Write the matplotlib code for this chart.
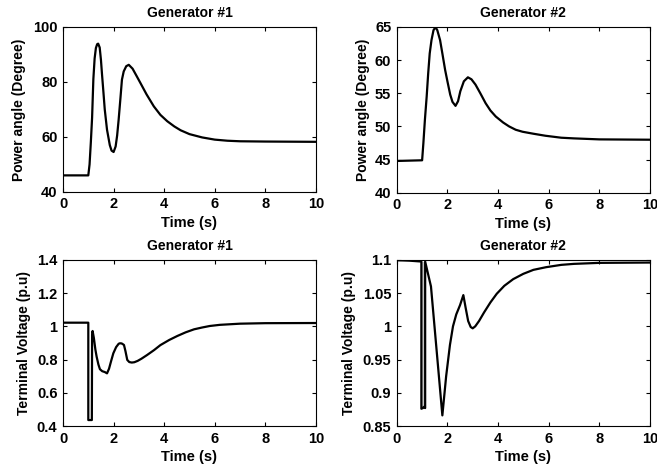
import matplotlib
matplotlib.use("Agg")
import matplotlib.pyplot as plt
from matplotlib.ticker import FormatStrFormatter

# generator 1 power angle (degree)
t_ang1 = [0, 1.0, 1.05, 1.1, 1.15, 1.2, 1.25, 1.3, 1.35, 1.39, 1.45, 1.5, 1.54, 1.6, 1.65, 1.74,
          1.85, 1.92, 2.0, 2.08, 2.14, 2.2, 2.27, 2.33, 2.4, 2.5, 2.6, 2.75, 2.9, 3.06, 3.3, 3.59, 3.85,
          4.12, 4.4, 4.65, 5.0, 5.5, 6.0, 6.5, 7.0, 8.0, 10.0]
ang1 = [46, 46, 50, 58, 67, 81, 88.5, 92.3, 93.7, 93.9, 92.5, 88, 83, 76, 70, 62.6,
        57, 55, 54.5, 56.5, 60.5, 66.3, 74, 80.8, 83.8, 85.7, 86.2, 84.8, 82.3, 79.6, 75.5, 71.1, 68,
        65.7, 63.8, 62.4, 61, 59.8, 59.0, 58.6, 58.4, 58.3, 58.2]

# generator 2 power angle (degree)
t_ang2 = [0, 1.0, 1.05, 1.11, 1.18, 1.24, 1.3, 1.37, 1.45, 1.53, 1.6, 1.71, 1.8, 1.91,
          2.0, 2.11, 2.2, 2.32, 2.42, 2.51, 2.65, 2.81, 2.95, 3.11, 3.3, 3.51, 3.7, 3.91,
          4.2, 4.44, 4.7, 4.97, 5.4, 5.87, 6.5, 7.0, 8.0, 10.0]
ang2 = [44.8, 44.9, 47.5, 51, 54.5, 58, 61, 63, 64.5, 64.95, 64.5, 63, 61, 58.5,
        56.8, 54.8, 53.7, 53.1, 53.8, 55.3, 56.8, 57.4, 57.1, 56.3, 55, 53.5, 52.4, 51.5,
        50.6, 50.0, 49.5, 49.2, 48.9, 48.6, 48.3, 48.2, 48.05, 48.0]

# generator 1 terminal voltage (p.u)
t_v1 = [0, 1.0, 1.0, 1.14, 1.15, 1.17, 1.22, 1.28, 1.33, 1.4, 1.46, 1.55, 1.65, 1.74,
        1.82, 1.9, 1.99, 2.1, 2.2, 2.25, 2.32, 2.41, 2.47, 2.54, 2.62, 2.72, 2.82, 2.95,
        3.1, 3.32, 3.6, 3.85, 4.2, 4.52, 4.85, 5.18, 5.5, 5.8, 6.2, 7.0, 8.0, 10.0]
v1 = [1.022, 1.022, 0.436, 0.436, 0.95, 0.972, 0.93, 0.86, 0.817, 0.77, 0.742, 0.73, 0.725, 0.717,
      0.745, 0.79, 0.838, 0.875, 0.895, 0.898, 0.897, 0.888, 0.85, 0.798, 0.785, 0.782, 0.784, 0.792,
      0.805, 0.827, 0.857, 0.887, 0.918, 0.942, 0.964, 0.982, 0.993, 1.002, 1.009, 1.016, 1.019, 1.02]

# generator 2 terminal voltage (p.u)
t_v2 = [0, 0.5, 0.97, 0.97, 1.03, 1.08, 1.12, 1.12, 1.35, 1.8, 1.95, 2.1, 2.22, 2.35, 2.5,
        2.63, 2.72, 2.82, 2.92, 3.0, 3.1, 3.25, 3.45, 3.7, 3.95, 4.25, 4.6, 5.0, 5.4, 5.9,
        6.5, 7.0, 8.0, 10.0]
v2 = [1.0995, 1.0988, 1.0975, 0.876, 0.877, 0.879, 0.877, 1.0975, 1.06, 0.866, 0.925, 0.972, 1.0, 1.018, 1.032,
      1.047, 1.028, 1.008, 0.999, 0.997, 1.0, 1.008, 1.021, 1.036, 1.049, 1.061, 1.071, 1.079, 1.085, 1.089,
      1.0925, 1.094, 1.0955, 1.096]
# fault window on gen 2 voltage (grey band)
fault_t = [0.97, 1.12]
fault_lo = [0.877, 0.877]
fault_hi = [1.0975, 1.0975]

plt.rcParams['font.family'] = ['Liberation Sans', 'DejaVu Sans']
plt.rcParams['font.weight'] = 'bold'
plt.rcParams['font.size'] = 10

fig = plt.figure(figsize=(6.57, 4.68), dpi=100)
ax1 = fig.add_axes([0.0959, 0.590, 0.385, 0.3526])
ax2 = fig.add_axes([0.604, 0.588, 0.385, 0.3546])
ax3 = fig.add_axes([0.0959, 0.0897, 0.385, 0.355])
ax4 = fig.add_axes([0.604, 0.0897, 0.385, 0.355])

ax4.fill_between(fault_t, fault_lo, fault_hi, color='#c4c4c4', lw=0)

ax1.plot(t_ang1, ang1, color='black', lw=1.6)
ax2.plot(t_ang2, ang2, color='black', lw=1.6)
ax3.plot(t_v1, v1, color='black', lw=1.6)
ax4.plot(t_v2, v2, color='black', lw=1.6)

ax1.set_ylim(40, 100)
ax1.set_yticks([40, 60, 80, 100])
ax2.set_ylim(40, 65)
ax2.set_yticks([40, 45, 50, 55, 60, 65])
ax3.set_ylim(0.4, 1.4)
ax3.set_yticks([0.4, 0.6, 0.8, 1.0, 1.2, 1.4])
ax4.set_ylim(0.85, 1.1)
ax4.set_yticks([0.85, 0.9, 0.95, 1.0, 1.05, 1.1])

titles = ['Generator #1', 'Generator #2', 'Generator #1', 'Generator #2']
ylabels = ['Power angle (Degree)', 'Power angle (Degree)',
           'Terminal Voltage (p.u)', 'Terminal Voltage (p.u)']
ylab_x = [-0.146, -0.108, -0.126, -0.162]

for ax, ttl, yl, lx in zip([ax1, ax2, ax3, ax4], titles, ylabels, ylab_x):
    ax.set_xlim(0, 10)
    ax.set_xticks([0, 2, 4, 6, 8, 10])
    ax.yaxis.set_major_formatter(FormatStrFormatter('%g'))
    ax.tick_params(direction='in', top=True, right=True, length=3, width=0.8, pad=4,
                   labelsize=10.5)
    for s in ax.spines.values():
        s.set_linewidth(0.8)
    ax.set_title(ttl, fontsize=10, fontweight='bold', pad=7)
    ax.set_xlabel('Time (s)', fontweight='bold', fontsize=10.5, labelpad=3)
    ax.set_ylabel(yl, fontweight='bold')
    ax.yaxis.set_label_coords(lx, 0.5)

plt.savefig("out.png", dpi=100)
